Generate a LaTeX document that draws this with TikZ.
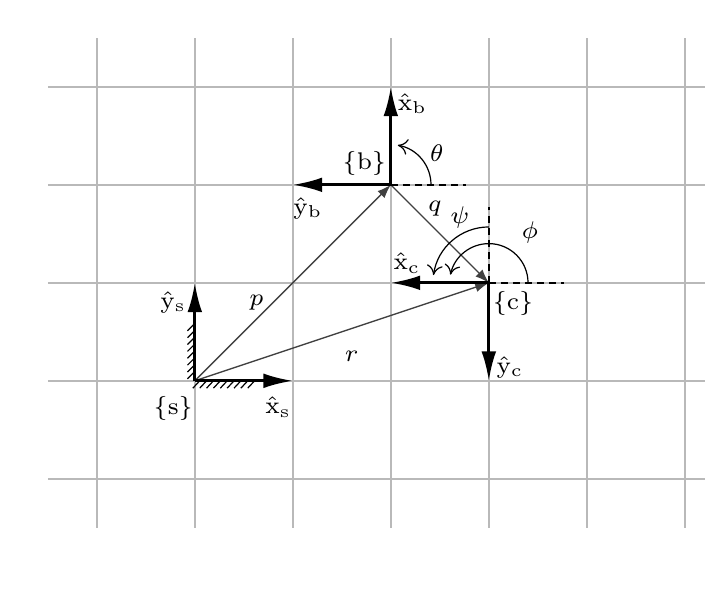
\documentclass[tikz,border=0pt]{standalone}
\usetikzlibrary{arrows.meta}
\begin{document}
\begin{tikzpicture}[gridline/.style={draw=gray!55,line width=0.45pt},
                axis/.style={line width=0.8pt,-{Latex[length=3mm,width=1.5mm]}},
                vec/.style={draw=black!75,line width=0.4pt,-{Latex[length=1.4mm,width=1mm]}},
                refline/.style={dash pattern=on 2pt off 1.5pt,line width=0.4pt},
                ang/.style={line width=0.35pt,-{To[length=1mm,width=1.6mm]}},
                lbl/.style={inner sep=0pt,font=\fontsize{7.5pt}{9pt}\selectfont}]
                \useasboundingbox (-1.988,-2.135) rectangle (5.206,3.886);
                \clip (-1.988,-2.135) rectangle (5.206,3.886);
                % grid
                \foreach \x in {-1,...,5} \draw[gridline] (\x,-1.5) -- (\x,3.5);
                \foreach \y in {-1,...,3} \draw[gridline] (-1.5,\y) -- (5.5,\y);
                % frames
                \coordinate (s) at (0,0);
                \coordinate (b) at (2,2);
                \coordinate (c) at (3,1);
                \coordinate (xs) at (1,0);
                \coordinate (ys) at (0,1);
                \coordinate (xb) at (2,3);
                \coordinate (yb) at (1,2);
                \coordinate (xc) at (2,1);
                \coordinate (yc) at (3,0);
                \coordinate (bh) at (2.77,2);
                \coordinate (ch) at (3.77,1);
                \coordinate (cv) at (3,1.77);
                % ground hatching
                \foreach \i in {0,...,8} \draw[line width=0.35pt] (\i*0.07-0.02,-0.075) -- ++(0.07,0.075);
                \foreach \i in {0,...,7} \draw[line width=0.35pt] (-0.075,\i*0.07+0.02) -- ++(0.075,0.075);
                \draw[vec](s) -- (b);
                \draw[vec](s) -- (c);
                \draw[vec](b) -- (c);
                \draw[refline](b) -- (bh);
                \draw[refline](c) -- (ch);
                \draw[refline](c) -- (cv);
                \draw[axis](s) -- (xs);
                \draw[axis](s) -- (ys);
                \draw[axis](b) -- (xb);
                \draw[axis](b) -- (yb);
                \draw[axis](c) -- (xc);
                \draw[axis](c) -- (yc);
                % angles
                \draw[ang] ([shift={(0:0.41)}]b) arc (0:80:0.41);
                \draw[ang] ([shift={(90:0.57)}]c) arc (90:172:0.57);
                \draw[ang] ([shift={(0:0.4)}]c) arc (0:168:0.4);
                % labels
                \node[lbl](ls) at (-0.22,-0.28) {$\{\mathrm{s}\}$};
                \node[lbl](lxs) at (0.85,-0.27) {$\hat{\mathrm{x}}_{\mathrm{s}}$};
                \node[lbl](lys) at (-0.22,0.8) {$\hat{\mathrm{y}}_{\mathrm{s}}$};
                \node[lbl](lb) at (1.73,2.22) {$\{\mathrm{b}\}$};
                \node[lbl](lxb) at (2.22,2.83) {$\hat{\mathrm{x}}_{\mathrm{b}}$};
                \node[lbl](lyb) at (1.155,1.763) {$\hat{\mathrm{y}}_{\mathrm{b}}$};
                \node[lbl](lc) at (3.247,0.794) {$\{\mathrm{c}\}$};
                \node[lbl](lxc) at (2.166,1.202) {$\hat{\mathrm{x}}_{\mathrm{c}}$};
                \node[lbl](lyc) at (3.217,0.141) {$\hat{\mathrm{y}}_{\mathrm{c}}$};
                \node[lbl](lth) at (2.47,2.32) {$\theta$};
                \node[lbl](lpsi) at (2.706,1.67) {$\psi$};
                \node[lbl](lphi) at (3.42,1.51) {$\phi$};
                \node[lbl](lq) at (2.45,1.76) {$q$};
                \node[lbl](lp) at (0.63,0.80) {$p$};
                \node[lbl](lr) at (1.6,0.245) {$r$};
            \end{tikzpicture}
\end{document}
